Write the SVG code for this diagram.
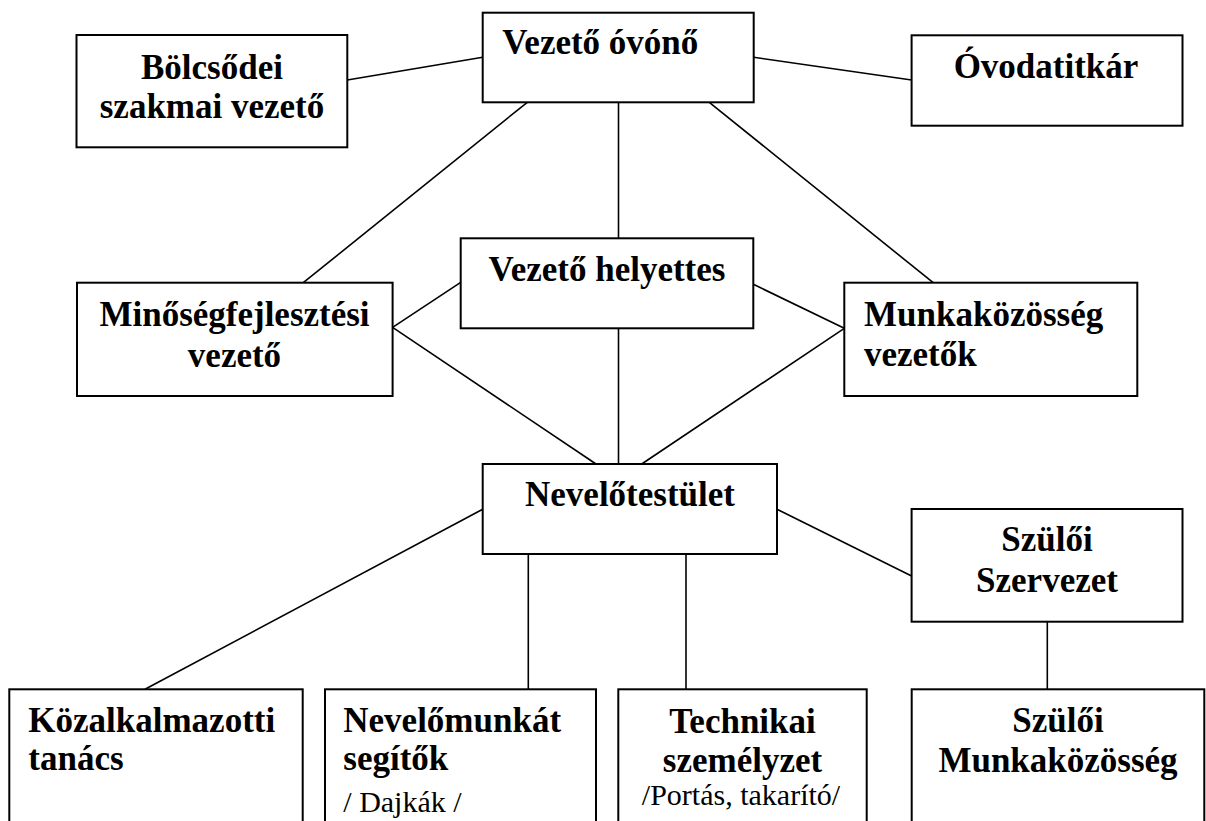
<svg xmlns="http://www.w3.org/2000/svg" width="1206" height="821" viewBox="0 0 1206 821">
<style>
.box{fill:#fff;stroke:#000;stroke-width:2}
.ln{stroke:#000;stroke-width:1.6;fill:none}
text{font-family:'Liberation Serif','DejaVu Serif',Tinos,serif;fill:#000}
.t{font-weight:bold;font-size:35px}
.s{font-weight:normal;font-size:30px}
.c{text-anchor:middle}
</style>
<rect width="1206" height="821" fill="#fff"/>
<g id="connectors">
<line class="ln" x1="347.3" y1="80" x2="482.7" y2="57.3"/>
<line class="ln" x1="753.7" y1="57.3" x2="911.6" y2="80"/>
<line class="ln" x1="527.3" y1="102.3" x2="303.3" y2="282.7"/>
<line class="ln" x1="618.5" y1="102.3" x2="618.5" y2="238.3"/>
<line class="ln" x1="709.3" y1="102.3" x2="933.2" y2="282.7"/>
<line class="ln" x1="460.7" y1="282.3" x2="392.6" y2="327.3"/>
<line class="ln" x1="392.6" y1="327.3" x2="596" y2="464"/>
<line class="ln" x1="753.3" y1="284.3" x2="844.3" y2="328.3"/>
<line class="ln" x1="844.3" y1="328.3" x2="641.7" y2="464"/>
<line class="ln" x1="618.5" y1="328.3" x2="618.5" y2="464"/>
<line class="ln" x1="482.7" y1="509.3" x2="145" y2="689.3"/>
<line class="ln" x1="528.3" y1="554" x2="528.3" y2="689.3"/>
<line class="ln" x1="686" y1="554" x2="686" y2="689.3"/>
<line class="ln" x1="777" y1="509.3" x2="911.6" y2="576"/>
<line class="ln" x1="1047.3" y1="621.7" x2="1047.3" y2="689.3"/>
</g>
<g id="vezeto-ovono">
<rect class="box" x="482.7" y="12.7" width="271" height="89.6"/>
<text class="t" font-family="Liberation Serif, serif" x="502.3" y="54.3">Vezető óvónő</text>
</g>
<g id="bolcsodei">
<rect class="box" x="76.5" y="35" width="270.8" height="112.3"/>
<text class="t c" x="212" y="79.3">Bölcsődei</text>
<text class="t c" x="212" y="118.3">szakmai vezető</text>
</g>
<g id="ovodatitkar">
<rect class="box" x="911.6" y="35.3" width="270.9" height="90.4"/>
<text class="t c" x="1046" y="78.3">Óvodatitkár</text>
</g>
<g id="vezeto-helyettes">
<rect class="box" x="460.7" y="238.3" width="292.6" height="90"/>
<text class="t c" x="607" y="281">Vezető helyettes</text>
</g>
<g id="minoseg">
<rect class="box" x="77" y="282.7" width="315.6" height="113.3"/>
<text class="t c" x="234.5" y="326">Minőségfejlesztési</text>
<text class="t c" x="234.5" y="366.5">vezető</text>
</g>
<g id="munkakozosseg-vezetok">
<rect class="box" x="844.3" y="282.7" width="293" height="113.3"/>
<text class="t" x="864" y="326">Munkaközösség</text>
<text class="t" x="864" y="366">vezetők</text>
</g>
<g id="nevelotestulet">
<rect class="box" x="482.7" y="464" width="294.3" height="90"/>
<text class="t c" x="630" y="506">Nevelőtestület</text>
</g>
<g id="szuloi-szervezet">
<rect class="box" x="911.6" y="509" width="270.9" height="112.7"/>
<text class="t c" x="1047" y="551">Szülői</text>
<text class="t c" x="1047" y="591.7">Szervezet</text>
</g>
<g id="kozalkalmazotti">
<rect class="box" x="9.3" y="689.3" width="293.4" height="160"/>
<text class="t" x="28.3" y="731.7">Közalkalmazotti</text>
<text class="t" x="28.3" y="770">tanács</text>
</g>
<g id="nevelomunkat">
<rect class="box" x="325" y="689.3" width="271" height="160"/>
<text class="t" x="343.3" y="731.7">Nevelőmunkát</text>
<text class="t" x="343.3" y="770">segítők</text>
<text class="s" x="343.3" y="811.5">/ Dajkák /</text>
</g>
<g id="technikai">
<rect class="box" x="618.3" y="689.3" width="248.4" height="160"/>
<text class="t c" x="742.5" y="732.7">Technikai</text>
<text class="t c" x="742.5" y="771.7">személyzet</text>
<text class="s c" x="741" y="805">/Portás, takarító/</text>
</g>
<g id="szuloi-munkakozosseg">
<rect class="box" x="911.7" y="689.3" width="292.6" height="160"/>
<text class="t c" x="1058" y="731.7">Szülői</text>
<text class="t c" x="1058" y="771.7">Munkaközösség</text>
</g>
</svg>
